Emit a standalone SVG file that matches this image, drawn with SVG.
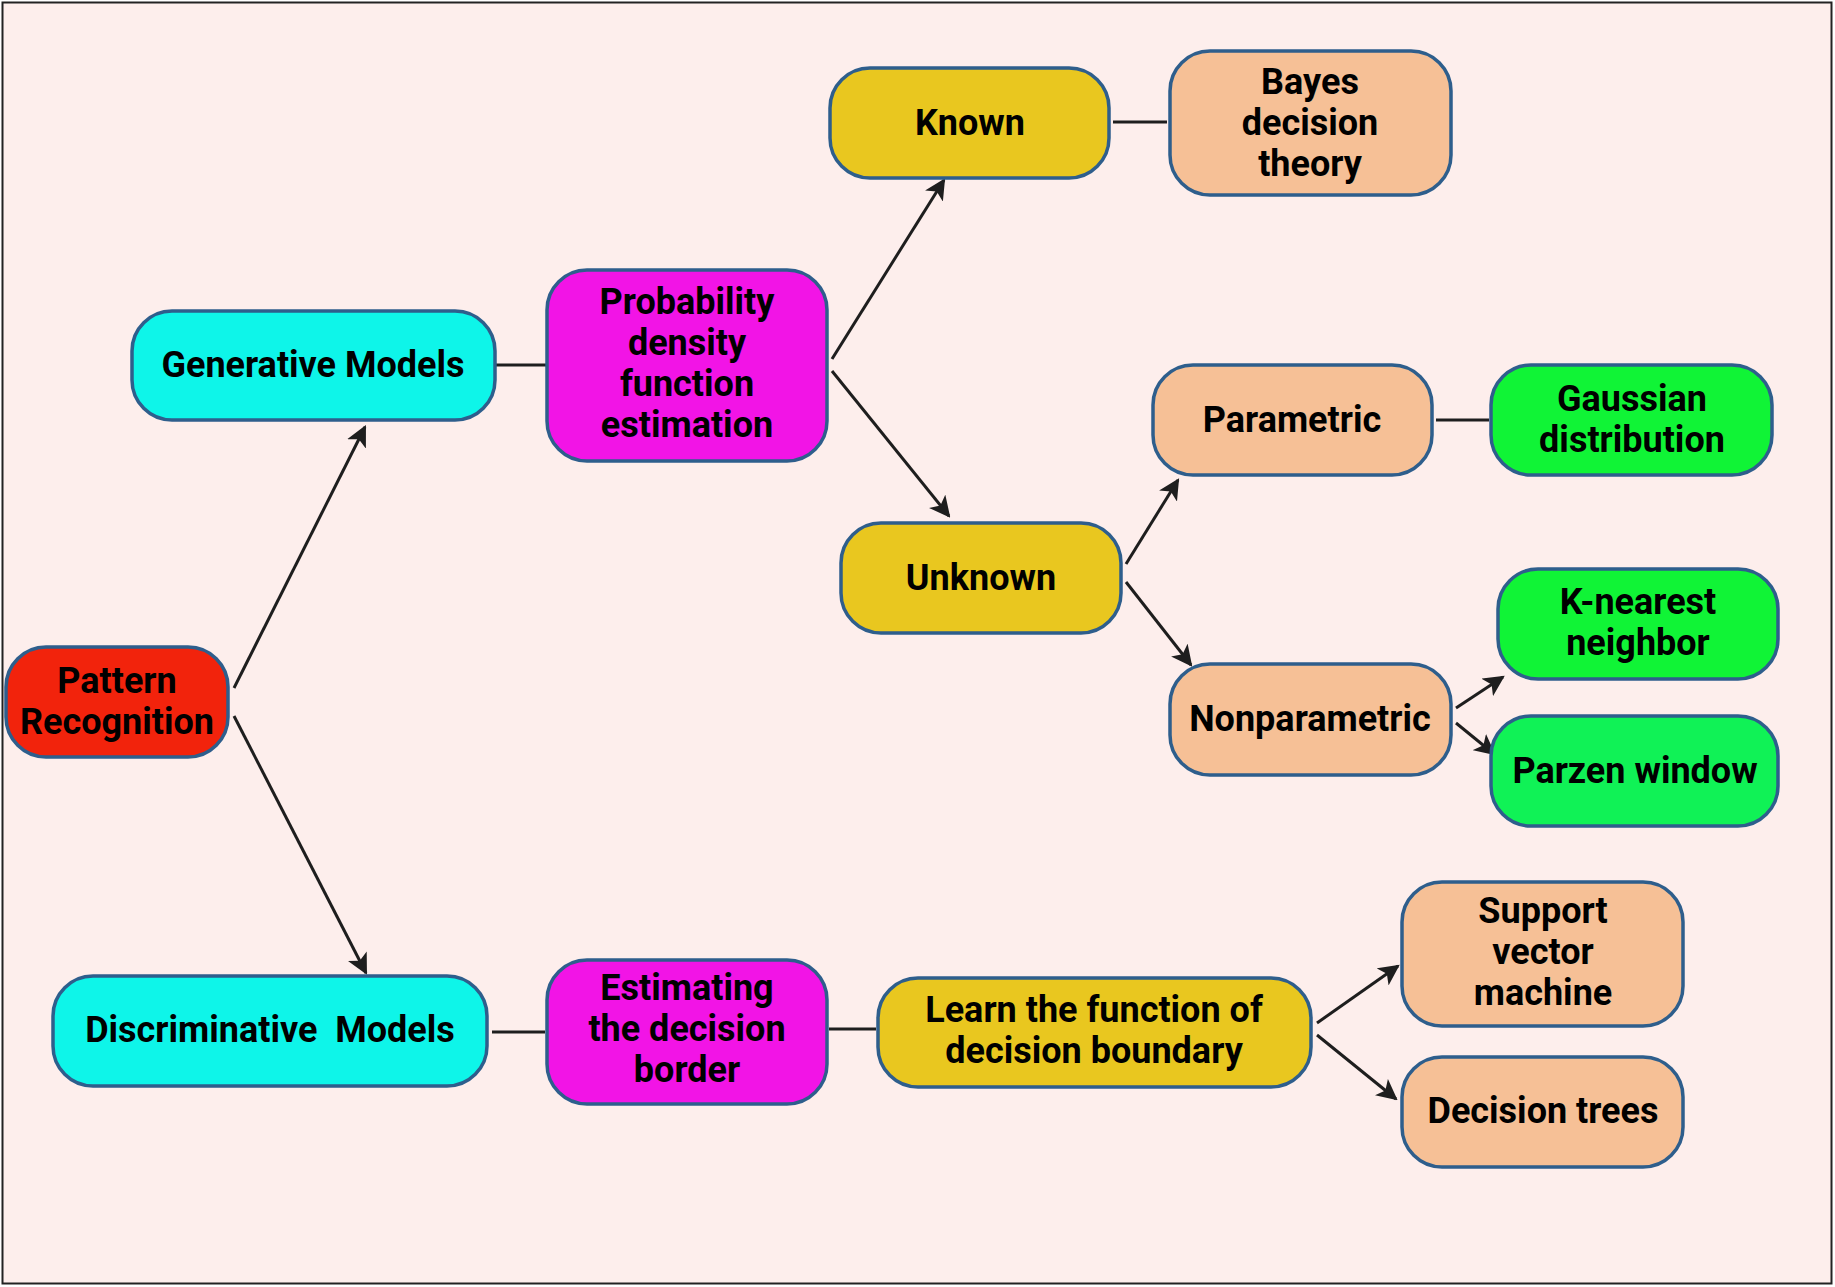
<svg xmlns="http://www.w3.org/2000/svg" width="1835" height="1287" viewBox="0 0 1835 1287">
<defs>
<style>
.n{stroke:#2E5E8C;stroke-width:3.5}
.t{font-family:Roboto,"Liberation Sans",sans-serif;font-weight:700;font-size:36px;fill:#000;text-anchor:middle;white-space:pre}
.c{stroke:#1E1E1E;stroke-width:3;fill:none}
.red{fill:#F2230C}.cyan{fill:#0EF5E9}.mag{fill:#F214E6}.yel{fill:#E9C71F}.pea{fill:#F6C096}.grn{fill:#10F436}.grn2{fill:#10F256}
</style>
<marker id="ah" viewBox="0 0 10 10" refX="9" refY="5" markerWidth="7" markerHeight="7" markerUnits="strokeWidth" orient="auto">
<path d="M0,0 L10,5 L0,10 L2.5,5 Z" fill="#1E1E1E"/>
</marker>
</defs>
<rect x="2.5" y="2.5" width="1829" height="1281" fill="#FDEEEC" stroke="#222" stroke-width="2"/>
<g id="connectors">
<line class="c" x1="234" y1="688" x2="365" y2="427" marker-end="url(#ah)"/>
<line class="c" x1="234" y1="716" x2="366" y2="973" marker-end="url(#ah)"/>
<line class="c" x1="495" y1="365" x2="547" y2="365"/>
<line class="c" x1="832" y1="359" x2="944" y2="180" marker-end="url(#ah)"/>
<line class="c" x1="832" y1="371" x2="949" y2="516" marker-end="url(#ah)"/>
<line class="c" x1="1113" y1="122" x2="1167" y2="122"/>
<line class="c" x1="1126" y1="564" x2="1178" y2="480" marker-end="url(#ah)"/>
<line class="c" x1="1126" y1="582" x2="1191" y2="665" marker-end="url(#ah)"/>
<line class="c" x1="1436" y1="420" x2="1489" y2="420"/>
<line class="c" x1="1456" y1="708" x2="1503" y2="677" marker-end="url(#ah)"/>
<line class="c" x1="1456" y1="723" x2="1494" y2="754" marker-end="url(#ah)"/>
<line class="c" x1="492" y1="1032" x2="545" y2="1032"/>
<line class="c" x1="829" y1="1029" x2="876" y2="1029"/>
<line class="c" x1="1317" y1="1023" x2="1398" y2="966" marker-end="url(#ah)"/>
<line class="c" x1="1317" y1="1035" x2="1396" y2="1099" marker-end="url(#ah)"/>
</g>
<g id="pattern"><rect class="n red" x="6" y="647" width="222" height="110" rx="40"/><text class="t" x="117" y="693">Pattern</text><text class="t" x="117" y="734">Recognition</text></g>
<g id="generative"><rect class="n cyan" x="132" y="311" width="363" height="109" rx="40"/><text class="t" x="313" y="377">Generative Models</text></g>
<g id="discriminative"><rect class="n cyan" x="53" y="976" width="434" height="110" rx="40"/><text class="t" x="270" y="1042">Discriminative  Models</text></g>
<g id="probability"><rect class="n mag" x="547" y="270" width="280" height="191" rx="40"/><text class="t" x="687" y="314">Probability</text><text class="t" x="687" y="355">density</text><text class="t" x="687" y="396">function</text><text class="t" x="687" y="437">estimation</text></g>
<g id="estimating"><rect class="n mag" x="547" y="960" width="280" height="144" rx="40"/><text class="t" x="687" y="1000">Estimating</text><text class="t" x="687" y="1041">the decision</text><text class="t" x="687" y="1082">border</text></g>
<g id="known"><rect class="n yel" x="830" y="68" width="279" height="110" rx="40"/><text class="t" x="970" y="135">Known</text></g>
<g id="bayes"><rect class="n pea" x="1170" y="51" width="281" height="144" rx="40"/><text class="t" x="1310" y="94">Bayes</text><text class="t" x="1310" y="135">decision</text><text class="t" x="1310" y="176">theory</text></g>
<g id="unknown"><rect class="n yel" x="841" y="523" width="280" height="110" rx="40"/><text class="t" x="981" y="590">Unknown</text></g>
<g id="parametric"><rect class="n pea" x="1153" y="365" width="279" height="110" rx="40"/><text class="t" x="1292" y="432">Parametric</text></g>
<g id="gaussian"><rect class="n grn" x="1491" y="365" width="281" height="110" rx="40"/><text class="t" x="1632" y="411">Gaussian</text><text class="t" x="1632" y="452">distribution</text></g>
<g id="nonparametric"><rect class="n pea" x="1170" y="664" width="281" height="111" rx="40"/><text class="t" x="1310" y="731">Nonparametric</text></g>
<g id="knearest"><rect class="n grn" x="1498" y="569" width="280" height="110" rx="40"/><text class="t" x="1638" y="614">K-nearest</text><text class="t" x="1638" y="655">neighbor</text></g>
<g id="parzen"><rect class="n grn2" x="1491" y="716" width="287" height="110" rx="40"/><text class="t" x="1635" y="783">Parzen window</text></g>
<g id="learn"><rect class="n yel" x="878" y="978" width="433" height="109" rx="40"/><text class="t" x="1094" y="1022">Learn the function of</text><text class="t" x="1094" y="1063">decision boundary</text></g>
<g id="svm"><rect class="n pea" x="1402" y="882" width="281" height="144" rx="40"/><text class="t" x="1543" y="923">Support</text><text class="t" x="1543" y="964">vector</text><text class="t" x="1543" y="1005">machine</text></g>
<g id="trees"><rect class="n pea" x="1402" y="1057" width="281" height="110" rx="40"/><text class="t" x="1543" y="1123">Decision trees</text></g>
</svg>
